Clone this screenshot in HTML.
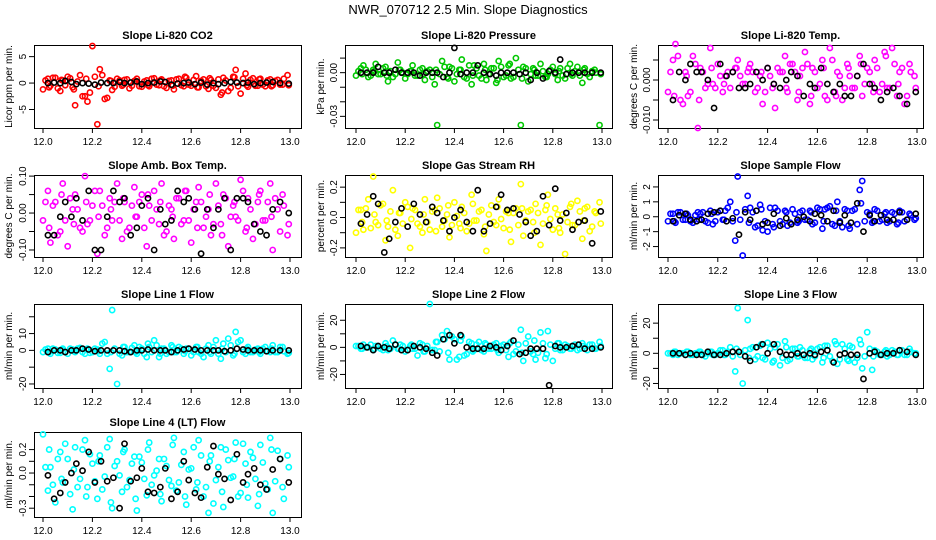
<!DOCTYPE html>
<html><head><meta charset="utf-8"><style>
body{margin:0;background:#fff;}
svg{display:block;font-family:"Liberation Sans",sans-serif;}
</style></head><body>
<svg id="chart" width="936" height="540" viewBox="0 0 936 540" xmlns="http://www.w3.org/2000/svg">
<rect width="936" height="540" fill="#fff"/>
<text x="468" y="14" font-size="13" text-anchor="middle">NWR_070712  2.5 Min. Slope Diagnostics</text>
</svg>
<script>
const tc=[12.00,12.02,12.03,12.05,12.07,12.08,12.10,12.12,12.13,12.15,12.17,12.18,12.20,12.22,12.23,12.25,12.27,12.28,12.30,12.32,12.33,12.35,12.37,12.38,12.40,12.42,12.43,12.45,12.47,12.48,12.50,12.52,12.53,12.55,12.57,12.58,12.60,12.62,12.63,12.65,12.67,12.68,12.70,12.72,12.73,12.75,12.77,12.78,12.80,12.82,12.83,12.85,12.87,12.88,12.90,12.92,12.93,12.95,12.97,12.99];
const tc2=[12.01,12.025,12.04,12.06,12.075,12.09,12.11,12.125,12.14,12.16,12.175,12.19,12.21,12.225,12.24,12.26,12.275,12.29,12.31,12.325,12.34,12.36,12.375,12.39,12.41,12.425,12.44,12.46,12.475,12.49,12.51,12.525,12.54,12.56,12.575,12.59,12.61,12.625,12.64,12.66,12.675,12.69,12.71,12.725,12.74,12.76,12.775,12.79,12.81,12.825,12.84,12.86,12.875,12.89,12.91,12.925,12.94,12.96,12.975,12.995];
const tb=[12.02,12.045,12.07,12.09,12.115,12.135,12.16,12.185,12.21,12.235,12.26,12.285,12.31,12.33,12.355,12.38,12.40,12.425,12.45,12.475,12.495,12.52,12.545,12.57,12.59,12.615,12.64,12.665,12.69,12.71,12.735,12.76,12.785,12.81,12.83,12.855,12.88,12.905,12.93,12.96,12.995];
const xTicks=["12.0","12.2","12.4","12.6","12.8","13.0"];
const co2c=[-1.2,0.8,-0.5,1,-1.5,0.5,1.2,-0.8,-4.2,1.5,-2.5,-3.5,7,-7.8,2.6,-3,0.5,-1.3,0.8,-0.5,0.6,-1,0.4,0.8,-0.7,0.5,-0.6,0.9,-0.4,0.7,-0.9,0.5,-1.2,0.8,-0.6,1,-0.5,1.3,-0.8,0.7,-1.1,0.6,-0.9,-2.2,1,-1.5,1.2,2.5,-2,1.8,-0.7,0.9,-0.5,0.8,-0.6,0.7,-0.4,0.6,-0.3,1.5];
const co2d=[0.5,-0.8,1,-1,0.6,-0.4,0.9,-1.2,0.3,-2.5,0.8,-1.8,1.2,-0.6,1.5,-2.8,0.4,-0.7,0.5,-0.3,0.7,-0.5,0.4,-0.6,0.3,-0.4,0.8,-0.3,0.5,-0.6,0.4,-0.5,0.7,-0.4,1.2,-0.3,0.6,-0.8,0.4,-0.6,0.9,-0.5,0.7,-1.8,0.5,-0.9,1.1,-0.6,0.8,-0.4,0.6,-0.5,0.7,-0.3,0.5,-0.6,0.4,-0.3,0.8,-0.4];
const co2b=[0,0.1,0,0.4,0.2,-0.2,0,-0.1,-0.3,0.1,0,0,0.2,0,0.1,0.3,-0.2,0,0.1,0.3,0.2,-0.3,-0.1,0,0.1,-0.2,0.1,-0.3,0,-0.2,0,0.2,0.1,0,0.1,-0.2,0,0.1,0.2,0,-0.1];
const presc=[-2,3,5,-3,2,6,-1,4,-6,-3,7,2,-4,1,5,-2,3,-5,2,-8,-36,8,-3,4,-6,2,9,-4,-8,5,-2,6,-5,3,-7,8,-3,5,-4,10,-36,4,-6,3,-2,6,-3,-1,4,-5,3,-4,6,-2,4,-7,3,-3,2,-36];
const presd=[1,-1,2,-2,1,-1,3,-2,1,-1,2,0,-1,1,-2,2,-1,1,-3,2,-1,4,-4,3,-1,2,-3,5,-2,3,-4,2,-1,3,-5,4,-2,6,-3,2,-4,3,-1,2,-2,1,-3,2,-1,1,-2,3,-1,1,-2,2,-1,1,0,-1];
const presb=[0,0,0,4,0,0,2,0,0,0,-2,0,0,0,-3,0,17,-1,0,0,5,0,-1,-2,0,0,0,-1,0,-5,0,-4,1,0,9,-1,0,0,0,0,0];
const tempc=[-3,5,9,-5,2,-4,6,-12,3,-2,8,-1,4,-3,1,-2,3,5,-1,2,4,-3,1,-6,3,-2,-7,2,6,-3,4,-5,1,7,-6,3,-2,5,-4,8,-3,2,-5,4,1,-2,6,-4,3,-1,5,-3,7,-2,8,-4,2,-6,4,1];
const tempd=[2,-4,6,-6,1,-3,4,-5,2,-1,3,-2,1,-1,2,2,3,1,-1,3,2,-2,2,-3,1,-1,3,2,-2,4,2,-3,3,4,-4,2,-1,3,-5,5,-4,1,-2,3,-2,1,4,-1,2,-3,3,-1,6,-2,4,-1,3,-4,2,-2];
const tempb=[-5,2,0,4,2,2,0,-7,4,1,2,-2,-2,-1,2,0,3,-1,-2,0,2,1,-4,-1,-2,3,-1,-3,-1,-4,-4,1,4,-1,-2,-5,-3,-2,-4,-6,-3];
const ambc=[-2,6,-8,3,-5,8,-9,1,5,-4,10,-3,2,-11,6,-6,4,-2,8,-7,3,-4,7,-1,5,-9,2,6,-3,8,-5,1,-7,4,-2,6,-8,3,7,-4,1,-6,8,-3,5,-9,2,-1,9,-5,4,-7,3,6,-2,8,-10,1,5,-6];
const ambd=[3,-4,2,-6,5,-2,4,-3,1,-5,3,-2,6,-1,2,-4,1,3,-2,4,-5,2,-1,3,-4,5,-2,1,3,-6,2,-1,4,-3,6,-2,1,-4,3,-1,5,-3,2,-6,4,-1,3,-2,6,-4,1,-3,5,-2,3,-1,4,-5,2,-3];
const ambb=[-6,-6,-1,3,-1,4,-2,6,-10,-10,-1,6,3,4,-6,-4,2,4,-10,1,-3,-2,6,3,4,1,-11,1,-4,1,4,-10,4,4,3,-3,-5,-6,1,3,0];
const rhc=[-10,5,-8,12,27,-3,8,-15,-6,18,-12,3,10,-20,6,-4,-10,12,-8,5,13,-6,2,-13,10,-4,7,-9,15,-2,4,-11,-22,8,-5,12,-7,3,-16,6,22,-12,4,-3,9,-18,5,15,-8,2,-10,-24,7,-5,11,-14,6,-9,4,10];
const rhd=[5,-3,6,-7,2,-5,9,-2,4,-8,3,-4,7,-1,5,-6,2,-3,4,-9,6,-2,8,-5,1,-7,3,-4,9,-2,5,-6,2,-3,7,-1,4,-8,3,-5,6,-2,5,-10,3,-4,8,-1,6,-7,2,-3,9,-5,4,-2,7,-6,3,-4];
const rhb=[-4,2,14,9,-23,-14,-3,6,-6,9,2,-3,7,3,-2,-9,0,5,-3,-9,18,-9,-4,7,15,5,6,2,-3,-12,-9,14,-5,19,-2,3,-8,-3,-2,-17,4];
const samc=[-0.3,0.2,-0.4,0.3,-0.2,0.1,-0.4,0.3,0.2,-0.3,0.4,-0.5,0.3,-0.2,0.4,1.0,-1.6,2.7,-2.6,1.4,0.6,-0.7,0.8,-0.9,-1.0,-0.5,0.6,-0.3,0.4,-0.6,0.5,-0.4,0.3,-0.2,0.4,-0.5,0.6,-0.8,0.5,0.7,-0.6,1.0,-0.7,0.4,-0.8,0.5,1.8,2.4,0.3,-0.4,0.5,-0.3,0.2,-0.4,0.3,-0.5,0.4,-0.3,0.2,-0.2];
const samd=[0.2,-0.3,0.3,-0.2,0.2,-0.3,0.1,-0.2,0.3,-0.4,0.2,-0.3,0.4,-0.2,0.6,-0.3,0.3,-0.2,0.5,-0.4,0.3,-0.6,0.5,-0.3,0.6,-0.7,0.4,-0.5,0.3,-0.4,0.2,-0.3,0.4,-0.2,0.3,-0.4,0.5,-0.3,0.6,-0.5,0.4,-0.3,0.5,-0.6,0.4,-0.5,0.9,-0.3,0.2,-0.3,0.4,-0.2,0.3,-0.3,0.2,-0.4,0.3,-0.2,0.1,-0.1];
const samb=[-0.3,0.1,0.2,-0.2,-0.3,-0.2,0.2,0.3,0.4,-0.3,-0.1,-1.2,0.3,-0.2,0.4,-0.5,-0.4,0.2,-0.6,-0.1,-0.5,-0.2,0,-0.3,0.2,0.1,-0.3,0.4,-0.4,0.1,-0.4,0.9,-1.0,0.1,-0.3,0.1,-0.2,-0.2,0.3,-0.2,0.2];
const l1c=[-1,1,-2,0.5,-1.5,1,-2,0.5,-1,1.5,-2,1,-1,0.5,-2,5,-11,24,-20,-3,2,-1,3,-2,1,-4,2,6,-4,1,-2,3,-1,2,-2,1,-3,2,-1,-4,3,-2,6,-5,4,7,-3,11,6,-2,2,-1,1,-2,2,-1,3,-1,2,-2];
const l1d=[0.5,-1,1,-1.5,0.5,-1,1,-0.5,1,-1,0.5,-1.5,1,-0.5,4,-2,-1,1,-2,2,-1,1.5,-1,2,-2,4,-1,3,-2,1,-1,2,-1,1,-0.5,1,-1,2,-2,1,-1,2,-2,1,-1,3,-2,5,-1,1,-1,0.5,-1,1,-0.5,1,-1,2,-0.5,-1.5];
const l1b=[-1,0,0,-1,0,0,1,0.5,-0.5,0,0,0,0,-0.5,-1,0,0,0.5,0,0,0,-1,0,0.5,1,0.5,0,0,0,0,-0.5,0,1,0.5,0,0,0,-0.5,0,0,0];
const l2c=[1,-1,2,0,-2,1,-1,3,-2,5,-1,2,-3,1,-1,-6,2,-3,32,-2,4,9,12,-9,6,-7,8,-5,3,-2,4,-3,2,-1,3,-4,2,-7,4,-3,13,-10,8,-5,-9,11,-8,12,-10,3,-2,2,-1,1,-2,3,-1,2,-1,4];
const l2d=[1,-1,0,2,-1,1,-2,1,-1,2,-1,1,-2,2,-1,3,-3,1,-2,4,-3,6,-4,8,-9,5,-6,4,-3,2,-2,3,-1,2,-2,1,-2,3,-5,2,-4,3,-3,5,-4,3,-5,2,-1,3,-2,1,-1,2,-1,1,-2,2,-1,1];
const l2b=[1,0,-2,1,0,-1,2,-2,-2,1,0,-1,-4,-6,6,9,3,9,0,-1,-1,-1,1,0,-2,1,5,-5,-4,-1,-1,-1,-28,1,0,0,1,2,-1,-1,0];
const l3c=[0,-1,1,0,-1,1,-1,0,1,-2,1,-1,0,2,-1,4,-12,30,-20,22,3,-4,5,-3,7,-6,4,-8,8,-5,3,-2,4,-3,2,-4,3,-6,5,-2,8,-7,6,-4,5,-6,9,-10,14,-11,2,-1,1,-2,2,-1,2,-1,3,0];
const l3d=[0,1,-1,0,1,-1,0,1,-1,0,1,-1,2,-1,1,-2,3,-1,2,-3,4,-2,6,-4,3,-5,6,-3,4,-4,3,-2,2,-3,3,-2,4,-3,5,-5,6,-4,3,-5,4,-3,6,-2,3,-2,1,-1,2,-1,1,-1,2,-1,1,0];
const l3b=[0,0,-1,0,-1,-1,1,-1,-1,0,1,1,-2,-5,4,6,0,6,1,-1,-1,0,-1,0,-1,1,2,-6,-1,0,-1,-1,-17,0,1,-1,0,0,2,1,-1];
const l4c=[33,-15,5,-25,18,-8,12,-31,22,-5,28,-12,8,-22,15,-3,29,-30,10,-16,20,-6,14,-32,9,-19,26,-2,12,-24,6,-11,30,-8,18,-27,4,-14,28,-20,-34,15,-6,22,-29,11,-3,26,-17,8,-21,13,-28,24,-9,30,-34,19,-12,15];
const l4d=[5,20,-10,12,-5,25,-18,3,-12,20,-20,16,-7,10,-14,22,-25,6,-2,18,-12,8,-22,14,-5,20,-10,2,-18,12,-6,24,-15,7,-20,3,22,-8,15,-12,10,-26,5,-16,20,-4,12,-20,25,-10,18,-5,-18,9,-14,20,-7,12,-22,5];
const l4b=[-2,-22,-17,-8,0,8,2,18,-8,10,-7,-4,-30,25,-7,-4,4,-16,-17,-12,4,-22,-16,10,-6,-17,-21,5,23,-1,-5,-23,16,-8,-1,4,-10,-14,3,12,-8];

const NS="http://www.w3.org/2000/svg";
const svg=document.getElementById('chart');
const cols=[{l:34,r:301,x0:43,x1:290,yt:8},{l:345,r:612,x0:356,x1:602,yt:320},{l:658,r:923,x0:668,x1:917,yt:633}];
const rows=[{t:45,b:128},{t:175,b:257},{t:304,b:388},{t:432,b:517}];
const panels=[
 {name:"co2",title:"Slope Li-820 CO2",yl:"Licor ppm per min.",c:0,r:0,col:"#ff0000",top:7.2,bot:-8.5,ticks:[5,0,-5],labs:["5","0","-5"],cy:co2c,dy:co2d,by:co2b},
 {name:"pressure",title:"Slope Li-820 Pressure",yl:"kPa per min.",c:1,r:0,col:"#00c800",top:19,bot:-38,ticks:[10,0,-10,-20,-30],labs:["","0.00","","","-0.03"],cy:presc,dy:presd,by:presb},
 {name:"temp",title:"Slope Li-820 Temp.",yl:"degrees C per min.",c:2,r:0,col:"#ff00ff",top:8.75,bot:-12,ticks:[5,0,-5,-10],labs:["","0.000","","-0.010"],cy:tempc,dy:tempd,by:tempb},
 {name:"amb-box-temp",title:"Slope Amb. Box Temp.",yl:"degrees C per min.",c:0,r:1,col:"#ff00ff",top:10.3,bot:-11.9,ticks:[10,5,0,-5,-10],labs:["0.10","","0.00","","-0.10"],cy:ambc,dy:ambd,by:ambb},
 {name:"gas-rh",title:"Slope Gas Stream RH",yl:"percent per min.",c:1,r:1,col:"#ffff00",top:28,bot:-26,ticks:[20,10,0,-10,-20],labs:["0.2","","0.0","","-0.2"],cy:rhc,dy:rhd,by:rhb},
 {name:"sample-flow",title:"Slope Sample Flow",yl:"ml/min per min.",c:2,r:1,col:"#0000ff",top:2.8,bot:-2.7,ticks:[2,1,0,-1,-2],labs:["2","1","0","-1","-2"],cy:samc,dy:samd,by:samb},
 {name:"line1-flow",title:"Slope Line 1 Flow",yl:"ml/min per min.",c:0,r:2,col:"#00ffff",top:27.6,bot:-22.4,ticks:[20,10,0,-10,-20],labs:["","10","0","","-20"],cy:l1c,dy:l1d,by:l1b},
 {name:"line2-flow",title:"Slope Line 2 Flow",yl:"ml/min per min.",c:1,r:2,col:"#00ffff",top:32,bot:-30,ticks:[20,10,0,-10,-20],labs:["20","","0","","-20"],cy:l2c,dy:l2d,by:l2b},
 {name:"line3-flow",title:"Slope Line 3 Flow",yl:"ml/min per min.",c:2,r:2,col:"#00ffff",top:32.7,bot:-23,ticks:[20,10,0,-10,-20],labs:["20","","0","","-20"],cy:l3c,dy:l3d,by:l3b},
 {name:"line4-flow",title:"Slope Line 4 (LT) Flow",yl:"ml/min per min.",c:0,r:3,col:"#00ffff",top:35,bot:-37.5,ticks:[20,10,0,-10,-20,-30],labs:["0.2","","0.0","","","-0.3"],cy:l4c,dy:l4d,by:l4b}
];
function mk(tag,attrs,parent){const e=document.createElementNS(NS,tag);for(const k in attrs)e.setAttribute(k,attrs[k]);(parent||svg).appendChild(e);return e;}
panels.forEach(p=>{
 const C=cols[p.c],R=rows[p.r];
 const g=mk('g',{});
 
 
 const xs=v=>C.x0+(v-12)*(C.x1-C.x0);
 const ys=v=>R.t+(p.top-v)/(p.top-p.bot)*(R.b-R.t);
 const t=mk('text',{x:(C.l+C.r)/2,y:R.t-6,'font-size':11,'font-weight':'bold','text-anchor':'middle'},g);
 t.textContent=p.title;
 
 
 const yl=mk('text',{x:0,y:0,'font-size':10,'text-anchor':'middle',transform:`translate(${C.yt+4},${(R.t+R.b)/2}) rotate(-90)`},g);
 yl.textContent=p.yl;
 
 
 xTicks.forEach((lab,i)=>{
  const x=xs(12+i*0.2);
  mk('line',{x1:x,x2:x,y1:R.b,y2:R.b+5,stroke:'#000'},g);
  const tx=mk('text',{x:x,y:R.b+17,'font-size':10,'text-anchor':'middle'},g);
  tx.textContent=lab;
  
  
 });
 mk('line',{x1:C.x0,x2:C.x1,y1:R.b+0.5,y2:R.b+0.5,stroke:'#000'},g);
 p.ticks.forEach((v,i)=>{
  const y=ys(v);
  mk('line',{x1:C.l-5,x2:C.l,y1:y,y2:y,stroke:'#000'},g);
  if(p.labs[i]){
   const ty=mk('text',{x:0,y:0,'font-size':10,'text-anchor':'middle',transform:`translate(${C.l-8},${y}) rotate(-90)`},g);
   ty.textContent=p.labs[i];
   
   
  }
 });
 mk('rect',{x:C.l+0.5,y:R.t+0.5,width:C.r-C.l,height:R.b-R.t,fill:'none',stroke:'#000'},g);
 const n=Math.min(tc.length,p.cy.length);
 for(let i=0;i<n;i++){
  const c=mk('circle',{cx:xs(tc[i]),cy:ys(p.cy[i]),r:2.6,fill:'none',stroke:p.col,'stroke-width':1.6},g);
  
  
 }
 const n2=Math.min(tc2.length,p.dy.length);
 for(let i=0;i<n2;i++){
  const c=mk('circle',{cx:xs(tc2[i]),cy:ys(p.dy[i]),r:2.6,fill:'none',stroke:p.col,'stroke-width':1.6},g);
  
  
 }
 const m=Math.min(tb.length,p.by.length);
 for(let i=0;i<m;i++){
  const c=mk('circle',{cx:xs(tb[i]),cy:ys(p.by[i]),r:2.6,fill:'none',stroke:'#000','stroke-width':1.6},g);
  
  
 }
});
</script>
</body></html>
